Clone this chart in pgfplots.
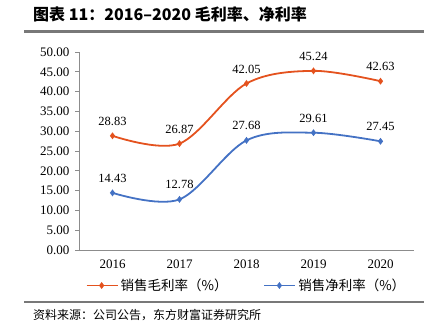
\documentclass[border=0pt]{standalone}
\usepackage{pgfplots}
\pgfplotsset{compat=1.18}
\usepackage{fontspec}
\setmainfont{Liberation Serif}
\newfontfamily\cjk{Noto Sans CJK SC}
\definecolor{gm}{RGB}{228,82,30}
\definecolor{nm}{RGB}{68,114,196}
\definecolor{ax}{RGB}{140,140,140}
\definecolor{rulegray}{RGB}{120,120,120}
\begin{document}
\begin{tikzpicture}[x=1pt,y=1pt]
\path[use as bounding box] (0,0) rectangle (431,331);
\begin{axis}[
  at={(79pt,81pt)}, anchor=south west,
  scale only axis, width=335pt, height=198pt,
  xmin=-0.5, xmax=4.5, ymin=0, ymax=50,
  axis x line*=bottom, axis y line*=left,
  axis line style={ax, line width=0.8pt},
  x axis line style={-}, y axis line style={-},
  xtick={0,1,2,3,4}, xticklabels={2016,2017,2018,2019,2020},
  major x tick style={draw=none},
  extra x ticks={0.5,1.5,2.5,3.5,4.5}, extra x tick labels={},
  extra x tick style={tick align=inside, major tick length=4pt, tick style={ax, line width=0.8pt}},
  ytick={0,5,...,50},
  yticklabel={\pgfmathprintnumber[fixed,fixed zerofill,precision=2]{\tick}},
  ytick style={ax, line width=0.8pt},
  tick align=outside, major tick length=4pt,
  ticklabel style={font=\fontsize{13}{15}\selectfont},
  /pgf/number format/assume math mode=true,
  xticklabel style={yshift=-2pt},
  yticklabel style={xshift=-2pt},
  legend style={at={(0.5,-0.125)}, anchor=north, draw=none, fill=none,
    font=\cjk\fontsize{13.5}{15}\selectfont, legend columns=2,
    /tikz/every even column/.append style={column sep=34pt}},
  legend image code/.code={\draw[#1, mark repeat=2, mark phase=2] plot coordinates {(0pt,0pt) (15pt,0pt) (31pt,0pt)};},
  nodes near coords, every node near coord/.append style={font=\fontsize{12.5}{14}\selectfont, black, yshift=6pt},
  point meta=explicit symbolic,
]
\addplot[gm, line width=1.8pt, smooth, tension=0.55, mark=diamond*, mark size=2pt] coordinates {
 (0,28.83) [28.83] (1,26.87) [26.87] (2,42.05) [42.05] (3,45.24) [45.24] (4,42.63) [42.63]};
\addlegendentry{销售毛利率（\%）}
\addplot[nm, line width=1.8pt, smooth, tension=0.55, mark=diamond*, mark size=2pt] coordinates {
 (0,14.43) [14.43] (1,12.78) [12.78] (2,27.68) [27.68] (3,29.61) [29.61] (4,27.45) [27.45]};
\addlegendentry{销售净利率（\%）}
\end{axis}
\node[anchor=west,inner sep=0] at (33,317) {\cjk\bfseries\fontsize{16}{18}\selectfont 图表 11：2016–2020 毛利率、净利率};
\fill[rulegray] (24,297.5) rectangle (424,300.5);
\fill[rulegray] (24,27.8) rectangle (424,30.2);
\node[anchor=west,inner sep=0] at (33,16) {\cjk\fontsize{12}{14}\selectfont 资料来源：公司公告，东方财富证券研究所};
\end{tikzpicture}
\end{document}
